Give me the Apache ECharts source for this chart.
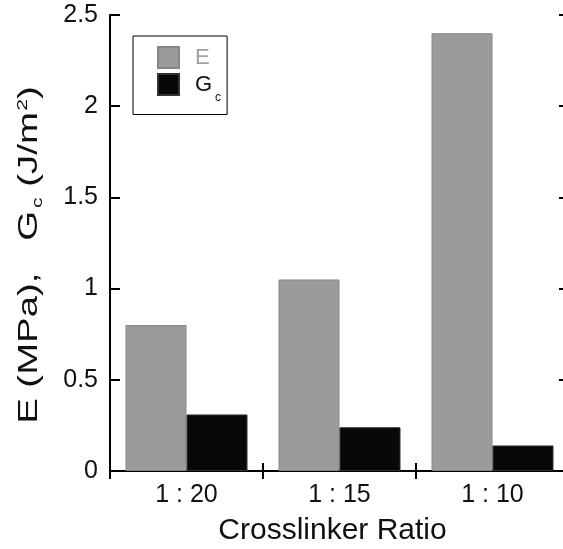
<!DOCTYPE html>
<html>
<head>
<meta charset="utf-8">
<script src="https://cdn.jsdelivr.net/npm/echarts@6/dist/echarts.min.js"></script>
<style>html,body{margin:0;padding:0;background:#fff}#c{width:563px;height:549px}</style>
</head>
<body>
<div id="c"></div>
<script>
const categories = ['1 : 20', '1 : 15', '1 : 10'];
const eValues = [0.80, 1.05, 2.40];
const gcValues = [0.31, 0.24, 0.14];
const yTicks = [0, 0.5, 1, 1.5, 2, 2.5];
const yTitle = '{n|E (MPa),   G}{s|c}{n| (J/m}{p|2}{n|)}';
const xTitle = 'Crosslinker Ratio';

const chart = echarts.init(document.getElementById('c'), null, {renderer: 'canvas'});
const FONT = 'Liberation Sans, Arial, sans-serif';
const TXT = '#111';
const axisLine = {show: true, lineStyle: {color: '#000', width: 2}};
const tick = (len) => ({show: true, inside: true, length: len, lineStyle: {color: '#000', width: 2}});

const option = {
  animation: false,
  backgroundColor: '#fff',
  textStyle: {fontFamily: FONT},
  grid: {left: 110, top: 15, width: 459, height: 456, outerBoundsMode: 'none', containLabel: false},
  graphic: [
    {
      type: 'text', x: 30, y: 255, rotation: Math.PI / 2, scaleX: 1.42, scaleY: 1,
      silent: true,
      style: {
        text: yTitle, align: 'center', verticalAlign: 'middle',
        fontFamily: FONT, fontSize: 27, fill: TXT,
        rich: {
          n: {fontFamily: FONT, fontSize: 27, fill: TXT, lineHeight: 34},
          s: {fontFamily: FONT, fontSize: 15, fill: TXT, verticalAlign: 'bottom', padding: [0, 0, 2, 2]},
          p: {fontFamily: FONT, fontSize: 15, fill: TXT, verticalAlign: 'top', padding: [2, 0, 0, 1]}
        }
      }
    }
  ],
  legend: {
    left: 133, top: 36,
    orient: 'vertical',
    itemWidth: 21, itemHeight: 21, itemGap: 4,
    padding: [10, 6, 11, 24],
    borderColor: '#000', borderWidth: 1,
    icon: 'rect',
    data: ['E', 'Gc'],
    formatter: function (n) { return n === 'Gc' ? '{g|G}{s|c}' : '{e|E}'; },
    textStyle: {
      fontFamily: FONT, fontSize: 22, color: TXT,
      rich: {
        e: {fontFamily: FONT, fontSize: 22, color: '#a0a0a0', lineHeight: 21, padding: [0, 0, 0, 11]},
        g: {fontFamily: FONT, fontSize: 22, color: TXT, lineHeight: 42, padding: [0, 0, 0, 11]},
        s: {fontFamily: FONT, fontSize: 12, color: TXT, verticalAlign: 'bottom', padding: [0, 0, 2, 3]}
      }
    }
  },
  xAxis: [
    {
      type: 'category', data: categories, position: 'bottom',
      axisLine: axisLine, axisTick: tick(8),
      axisLabel: {fontFamily: FONT, fontSize: 25, color: TXT, margin: 12},
      name: xTitle, nameLocation: 'middle', nameGap: 45,
      nameTextStyle: {fontFamily: FONT, fontSize: 30, color: TXT, padding: [0, 14, 0, 0]},
      splitLine: {show: false}
    },
    {
      type: 'category', data: categories, position: 'top',
      axisLine: axisLine, axisTick: tick(8),
      axisLabel: {show: false}, splitLine: {show: false}
    }
  ],
  yAxis: [
    {
      type: 'value', min: yTicks[0], max: yTicks[yTicks.length - 1], interval: 0.5,
      position: 'left',
      axisLine: axisLine, axisTick: tick(10),
      axisLabel: {fontFamily: FONT, fontSize: 25, color: TXT, margin: 12,
        formatter: function (v) { return String(v); }},
      splitLine: {show: false}
    },
    {
      type: 'value', min: yTicks[0], max: yTicks[yTicks.length - 1], interval: 0.5,
      position: 'right',
      axisLine: axisLine, axisTick: tick(10),
      axisLabel: {show: false}, splitLine: {show: false}
    }
  ],
  series: [
    {
      name: 'E', type: 'bar', data: eValues, xAxisIndex: 0, yAxisIndex: 0,
      barWidth: 61, barGap: '0%',
      itemStyle: {color: '#9b9b9b', borderColor: '#868686', borderWidth: 1}
    },
    {
      name: 'Gc', type: 'bar', data: gcValues, xAxisIndex: 0, yAxisIndex: 0,
      barWidth: 61,
      itemStyle: {color: '#080808', borderColor: '#333', borderWidth: 1}
    }
  ]
};
chart.setOption(option);
</script>
</body>
</html>
